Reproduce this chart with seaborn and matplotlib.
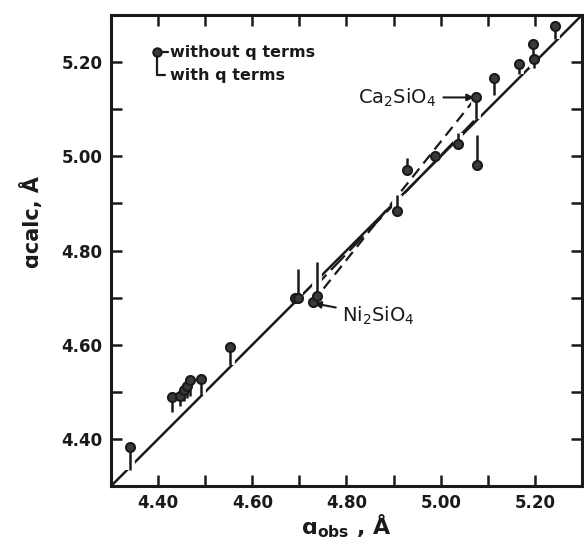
import matplotlib
matplotlib.use("Agg")
import matplotlib.pyplot as plt
import numpy as np
import pandas as pd
import seaborn as sns

# ---- data ----
a_obs = [4.341, 4.429, 4.447, 4.454, 4.461, 4.468, 4.491, 4.553,
         4.690, 4.697, 4.728, 4.738, 4.907, 4.929, 4.988, 5.036,
         5.075, 5.078, 5.114, 5.167, 5.196, 5.199, 5.242]
a_calc_without_q = [4.383, 4.489, 4.491, 4.503, 4.512, 4.526, 4.528, 4.596,
                    4.700, 4.700, 4.690, 4.703, 4.883, 4.972, 5.000, 5.027,
                    5.125, 4.981, 5.167, 5.197, 5.238, 5.206, 5.276]
a_calc_with_q = [4.335, 4.458, 4.470, 4.481, 4.488, 4.492, 4.493, 4.558,
                 4.700, 4.760, 4.690, 4.775, 4.918, 4.996, 5.000, 5.050,
                 5.080, 5.045, 5.130, 5.175, 5.207, 5.188, 5.248]
diag = [4.30, 5.30]
# olivine trend lines (Ni2SiO4 -> Ca2SiO4)
trend_obs = [4.728, 5.075]
trend_without_q = [4.690, 5.125]
trend_with_q = [4.718, 5.080]
x_ticks = [4.40, 4.60, 4.80, 5.00, 5.20]
y_ticks = [4.40, 4.60, 4.80, 5.00, 5.20]
minor_ticks = [4.30, 4.50, 4.70, 4.90, 5.10, 5.30]

df = pd.DataFrame({"obs": a_obs, "without": a_calc_without_q, "with": a_calc_with_q})

sns.set_theme(style="ticks")
plt.rcParams["font.family"] = ["DejaVu Sans"]

fig = plt.figure(figsize=(5.84, 5.45), dpi=100)
ax = fig.add_axes([0.190, 0.108, 0.8066, 0.8645])

ink = "#1a1a1a"

# diagonal y = x
sns.lineplot(x=diag, y=diag, ax=ax, color=ink, lw=1.8, zorder=1)
# trend lines
ax.plot(trend_obs, trend_without_q, color=ink, lw=1.6, dashes=(5, 3), zorder=1)
ax.plot(trend_obs, trend_with_q, color=ink, lw=1.6, dashes=(9, 3), zorder=1)

# white knockouts to break the lines where q-lines cross
ax.vlines(df["obs"], df["without"], df["with"], color="white", lw=7, zorder=2)
ax.vlines(df["obs"], df["without"], df["with"], color=ink, lw=1.8, zorder=3)
sns.scatterplot(data=df, x="obs", y="without", ax=ax, s=42, color="#3a3a3a",
                edgecolor=ink, linewidth=1.5, zorder=4, legend=False)

ax.set_xlim(4.30, 5.30)
ax.set_ylim(4.30, 5.30)
ax.set_xticks(x_ticks)
ax.set_yticks(y_ticks)
ax.set_xticks(minor_ticks, minor=True)
ax.set_yticks(minor_ticks, minor=True)
ax.set_xticklabels([f"{v:.2f}" for v in x_ticks])
ax.set_yticklabels([f"{v:.2f}" for v in y_ticks])
for which in ("major", "minor"):
    ax.tick_params(axis="both", which=which, direction="in", length=8, width=1.8,
                   top=True, right=True, color=ink)
ax.tick_params(axis="both", which="major", labelsize=12, pad=6, labelcolor=ink)
for lab in ax.get_xticklabels() + ax.get_yticklabels():
    lab.set_fontweight("bold")
for s in ax.spines.values():
    s.set_linewidth(2.2)
    s.set_color(ink)

ax.set_xlabel(r"$\mathbf{ɑ_{obs}}$ , Å", fontsize=16, fontweight="bold", color=ink)
ax.xaxis.set_label_coords(0.5, -0.056)
ax.set_ylabel("ɑcalc, Å", fontsize=15, fontweight="bold", color=ink)
ax.yaxis.set_label_coords(-0.145, 0.56)

# legend drawn by hand
t = ax.transAxes
ax.plot([0.0977], [0.921], "o", ms=6, color="#3a3a3a", mec=ink, mew=1.5, transform=t, zorder=5)
ax.plot([0.0977, 0.0977, 0.1147], [0.921, 0.872, 0.872], color=ink, lw=1.6, transform=t)
ax.plot([0.1067, 0.1207], [0.921, 0.921], color=ink, lw=1.6, transform=t)
ax.text(0.125, 0.921, "without q terms", transform=t, fontsize=11.5, fontweight="bold",
        va="center", ha="left", color=ink)
ax.text(0.125, 0.872, "with q terms", transform=t, fontsize=11.5, fontweight="bold",
        va="center", ha="left", color=ink)

# annotations
ax.annotate(r"Ca$_2$SiO$_4$", xy=(trend_obs[1] - 0.004, trend_without_q[1]),
            xytext=(4.99, trend_without_q[1]), fontsize=14, color=ink,
            ha="right", va="center",
            arrowprops=dict(arrowstyle="-|>", color=ink, lw=1.5, mutation_scale=10,
                            shrinkA=3, shrinkB=0))
ax.annotate(r"Ni$_2$SiO$_4$", xy=(trend_obs[0] + 0.003, trend_without_q[0] - 0.002),
            xytext=(4.79, 4.662), fontsize=14, color=ink,
            ha="left", va="center",
            arrowprops=dict(arrowstyle="-|>", color=ink, lw=1.5, mutation_scale=10,
                            shrinkA=2, shrinkB=0))

fig.savefig("out.png", dpi=100)
